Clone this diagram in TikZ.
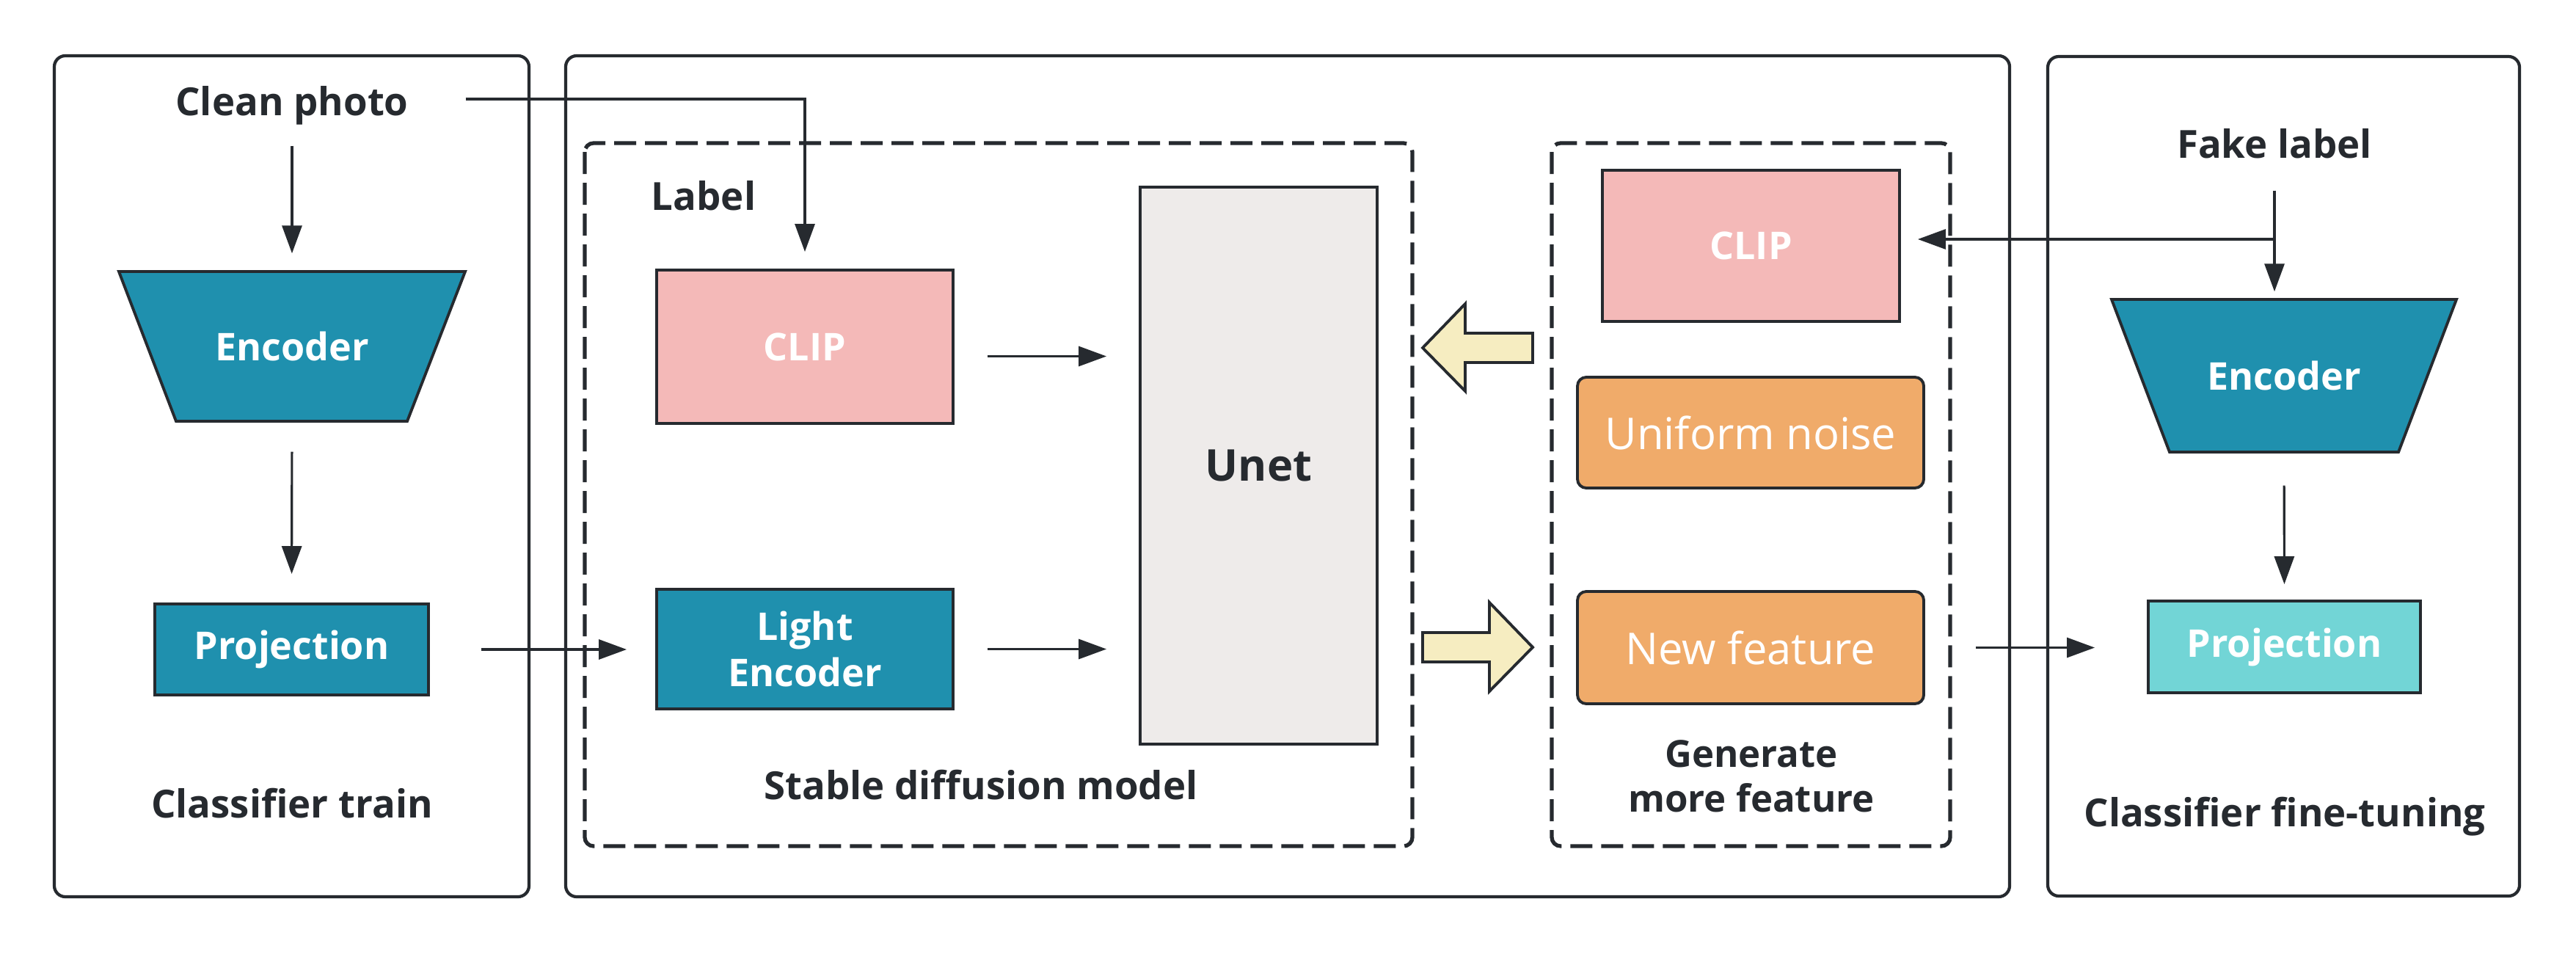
\documentclass[tikz,border=0pt]{standalone}
\usepackage{fontspec}
\setmainfont{Open Sans}
\usetikzlibrary{arrows.meta,calc}
\definecolor{dk}{RGB}{38,42,47}
\definecolor{tealc}{RGB}{31,144,174}
\definecolor{pinkc}{RGB}{244,185,184}
\definecolor{unetc}{RGB}{238,235,234}
\definecolor{orangec}{RGB}{240,171,106}
\definecolor{cyanc}{RGB}{114,213,214}
\definecolor{creamc}{RGB}{246,237,193}
\begin{document}
\begin{tikzpicture}[
 panel/.style={draw=dk, line width=1.2pt, rounded corners=0.15cm},
 dbox/.style={draw=dk, line width=1.5pt, dash pattern=on 0.3cm off 0.12cm, rounded corners=0.12cm},
 box/.style={draw=dk, line width=1.1pt, rectangle, inner sep=0pt, align=center},
 lbl/.style={font=\bfseries\fontsize{15}{18}\selectfont, text=dk, align=center, inner sep=0pt, text height=0.38cm, text depth=0.1cm},
 wt/.style={font=\bfseries\fontsize{14.8}{17.9}\selectfont, text=white, align=center},
 ot/.style={font=\fontsize{17}{20}\selectfont, text=white},
 arr/.style={draw=dk, line width=0.9pt, -{Triangle[length=0.38cm,width=0.27cm]}},
 encshape/.style={draw=dk, line width=1.1pt, fill=tealc, line join=miter},
 enc/.style={rectangle, inner sep=0pt, wt},
 blockarrow/.style={draw=dk, line width=1.1pt, fill=creamc, line join=miter}
]
\useasboundingbox (0,0) rectangle (35.11,-12.99);
\fill[white] (0,0) rectangle (35.11,-12.99);

% panels
\draw[panel] (0.74,-0.76) rectangle (7.21,-12.22);
\draw[panel] (7.71,-0.76) rectangle (27.39,-12.22);
\draw[panel] (27.91,-0.77) rectangle (34.34,-12.21);
\draw[dbox] (7.97,-1.95) rectangle (19.25,-11.53);
\draw[dbox] (21.15,-1.95) rectangle (26.58,-11.53);

% left panel
\node[lbl, minimum width=4.72cm] (clean) at (3.98,-1.43) {Clean photo};
\draw[encshape] (1.62,-3.70) -- (6.34,-3.70) -- (5.55,-5.74) -- (2.40,-5.74) -- cycle;
\node[enc, minimum width=4.72cm, minimum height=2.04cm] (enc1) at (3.98,-4.72) {Encoder};
\node[box, fill=tealc, wt, minimum width=3.73cm, minimum height=1.24cm] (proj1) at (3.975,-8.85) {Projection};
\node[lbl] (ctrain) at (3.98,-11.0) {Classifier train};

% middle panel
\node[lbl] (label) at (9.59,-2.72) {Label};
\node[box, fill=pinkc, wt, minimum width=4.04cm, minimum height=2.09cm] (clip1) at (10.97,-4.725) {CLIP};
\node[box, fill=tealc, wt, minimum width=4.04cm, minimum height=1.63cm] (le) at (10.97,-8.845) {Light\\Encoder};
\node[box, fill=unetc, minimum width=3.23cm, minimum height=7.59cm, font=\bfseries\fontsize{17}{20}\selectfont, text=dk] (unet) at (17.155,-6.345) {Unet};
\node[lbl] (sdm) at (13.37,-10.75) {Stable diffusion model};

\node[box, fill=pinkc, wt, minimum width=4.05cm, minimum height=2.06cm] (clip2) at (23.865,-3.35) {CLIP};
\node[box, fill=orangec, ot, rounded corners=0.12cm, minimum width=4.72cm, minimum height=1.51cm] (noise) at (23.86,-5.895) {Uniform noise};
\node[box, fill=orangec, ot, rounded corners=0.12cm, minimum width=4.72cm, minimum height=1.53cm] (newf) at (23.86,-8.825) {New feature};
\node[lbl, text height=, text depth=, font=\bfseries\fontsize{14.5}{17.3}\selectfont] (gen) at (23.87,-10.58) {Generate\\more feature};

% block arrows
\draw[blockarrow] (19.39,-4.74) -- (19.97,-4.14) -- (19.97,-4.54) -- (20.89,-4.54) -- (20.89,-4.94) -- (19.97,-4.94) -- (19.97,-5.33) -- cycle;
\draw[blockarrow] (19.39,-8.62) -- (20.30,-8.62) -- (20.30,-8.21) -- (20.89,-8.82) -- (20.30,-9.42) -- (20.30,-9.02) -- (19.39,-9.02) -- cycle;

% right panel
\node[lbl] (fake) at (31.0,-2.01) {Fake label};
\draw[encshape] (28.78,-4.08) -- (33.48,-4.08) -- (32.69,-6.16) -- (29.57,-6.16) -- cycle;
\node[enc, minimum width=4.70cm, minimum height=2.08cm] (enc2) at (31.13,-5.12) {Encoder};
\node[box, fill=cyanc, wt, minimum width=3.71cm, minimum height=1.25cm] (proj2) at (31.135,-8.815) {Projection};
\node[lbl] (cft) at (31.14,-11.12) {Classifier fine-tuning};
\coordinate (fj) at (31.0,-3.26);

% connectors
\draw[arr, shorten <=0.31cm, shorten >=0.24cm] (clean.south) -- (enc1.north);
\draw[arr, shorten <=0.41cm, shorten >=0.39cm] (enc1.south) -- (proj1.north);
\draw[arr, shorten >=0.23cm] ([yshift=0.08cm]clean.east) -| (clip1.north);
\draw[arr, shorten <=0.70cm, shorten >=0.39cm] (proj1.east) -- (proj1.east -| le.west);
\draw[arr, shorten <=0.45cm, shorten >=0.44cm] ([yshift=-0.13cm]clip1.east) -- ([yshift=-0.13cm]clip1.east -| unet.west);
\draw[arr, shorten <=0.45cm, shorten >=0.44cm] (le.east) -- (le.east -| unet.west);
\draw[arr, shorten <=0.34cm, shorten >=0.10cm] (fake.south) -- (fake.south |- enc2.north);
\draw[arr, shorten >=0.23cm] (fj) -- (fj -| clip2.east);
\draw[arr, shorten <=0.45cm, shorten >=0.21cm] (enc2.south) -- (proj2.north);
\draw[arr, shorten <=0.69cm, shorten >=0.71cm] (newf.east) -- (newf.east -| proj2.west);
\end{tikzpicture}
\end{document}
